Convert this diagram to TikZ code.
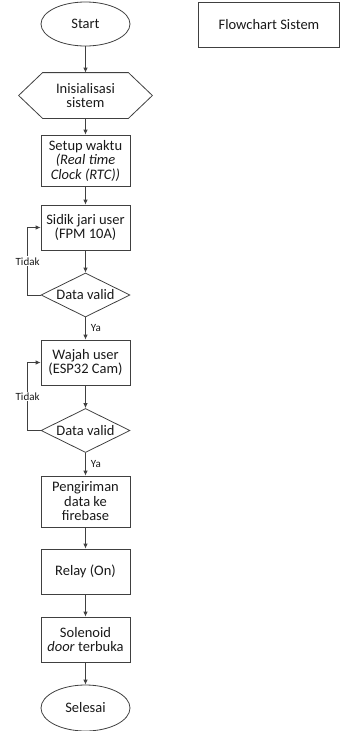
\documentclass[tikz,border=0pt]{standalone}
\usepackage{fontspec}
\setmainfont{Carlito}
\usetikzlibrary{shapes.geometric,arrows.meta}
\definecolor{linegray}{HTML}{404040}
\begin{document}
\begin{tikzpicture}[x=1pt, y=-1pt, line width=0.8pt,
    font=\fontsize{14.5}{14.5}\selectfont, text=black!90,
    box/.style={draw=linegray, rectangle, minimum width=89pt, minimum height=45pt, inner sep=0pt, align=center},
    term/.style={draw=linegray, ellipse, minimum width=89pt, minimum height=44pt, inner sep=0pt},
    prep/.style={rectangle, minimum width=85pt, minimum height=45pt, inner sep=0pt, align=center},
    cond/.style={draw=linegray, diamond, aspect=2, minimum width=89pt, minimum height=44pt, inner sep=0pt},
    flow/.style={draw=linegray, -{Latex[length=5pt,width=4.5pt]}},
    lbl/.style={font=\fontsize{11}{11}\selectfont, inner sep=1pt}]
    \useasboundingbox (0, 0) rectangle (340, 731);

    \node[term] (start) at (85.5, 24) {Start};
    \node[box, minimum width=141pt] (title) at (269, 24.5) {Flowchart Sistem};
    \node[prep] (init) at (85.5, 95.5) {Inisialisasi\\sistem};
    \draw[linegray] (init.north west) -- (init.north east) -- ([xshift=24pt]init.east)
        -- (init.south east) -- (init.south west) -- ([xshift=-24pt]init.west) -- cycle;
    \node[box, minimum height=51pt] (setup) at (85.5, 160.5) {Setup waktu\\\textit{(Real time}\\\textit{Clock (RTC))}};
    \node[box] (sidik) at (85.5, 227.5) {Sidik jari user\\(FPM 10A)};
    \node[cond] (valid1) at (85.5, 295) {Data valid};
    \node[box] (wajah) at (85.5, 362.5) {Wajah user\\(ESP32 Cam)};
    \node[cond] (valid2) at (85.5, 430.5) {Data valid};
    \node[box, minimum height=51pt] (kirim) at (85.5, 501.5) {Pengiriman\\data ke\\firebase};
    \node[box] (relay) at (85.5, 571.5) {Relay (On)};
    \node[box] (solenoid) at (85.5, 639.5) {Solenoid\\\textit{door} terbuka};
    \node[term, minimum height=46pt] (selesai) at (85.5, 708) {Selesai};

    \draw[flow] (start) -- (init);
    \draw[flow] (init) -- (setup);
    \draw[flow] (setup) -- (sidik);
    \draw[flow] (sidik) -- (valid1);
    \draw[flow] (valid1) -- node[lbl, right=4pt] {Ya} (wajah);
    \draw[flow] (wajah) -- (valid2);
    \draw[flow] (valid2) -- node[lbl, right=4pt] {Ya} (kirim);
    \draw[flow] (kirim) -- (relay);
    \draw[flow] (relay) -- (solenoid);
    \draw[flow] (solenoid) -- (selesai);

    % jalur kembali jika data tidak valid
    \draw[flow] (valid1.west) -- ++(-13, 0) |- node[lbl, pos=0.25, fill=white] {Tidak} (sidik.west);
    \draw[flow] (valid2.west) -- ++(-13, 0) |- node[lbl, pos=0.25, fill=white] {Tidak} (wajah.west);
\end{tikzpicture}
\end{document}
